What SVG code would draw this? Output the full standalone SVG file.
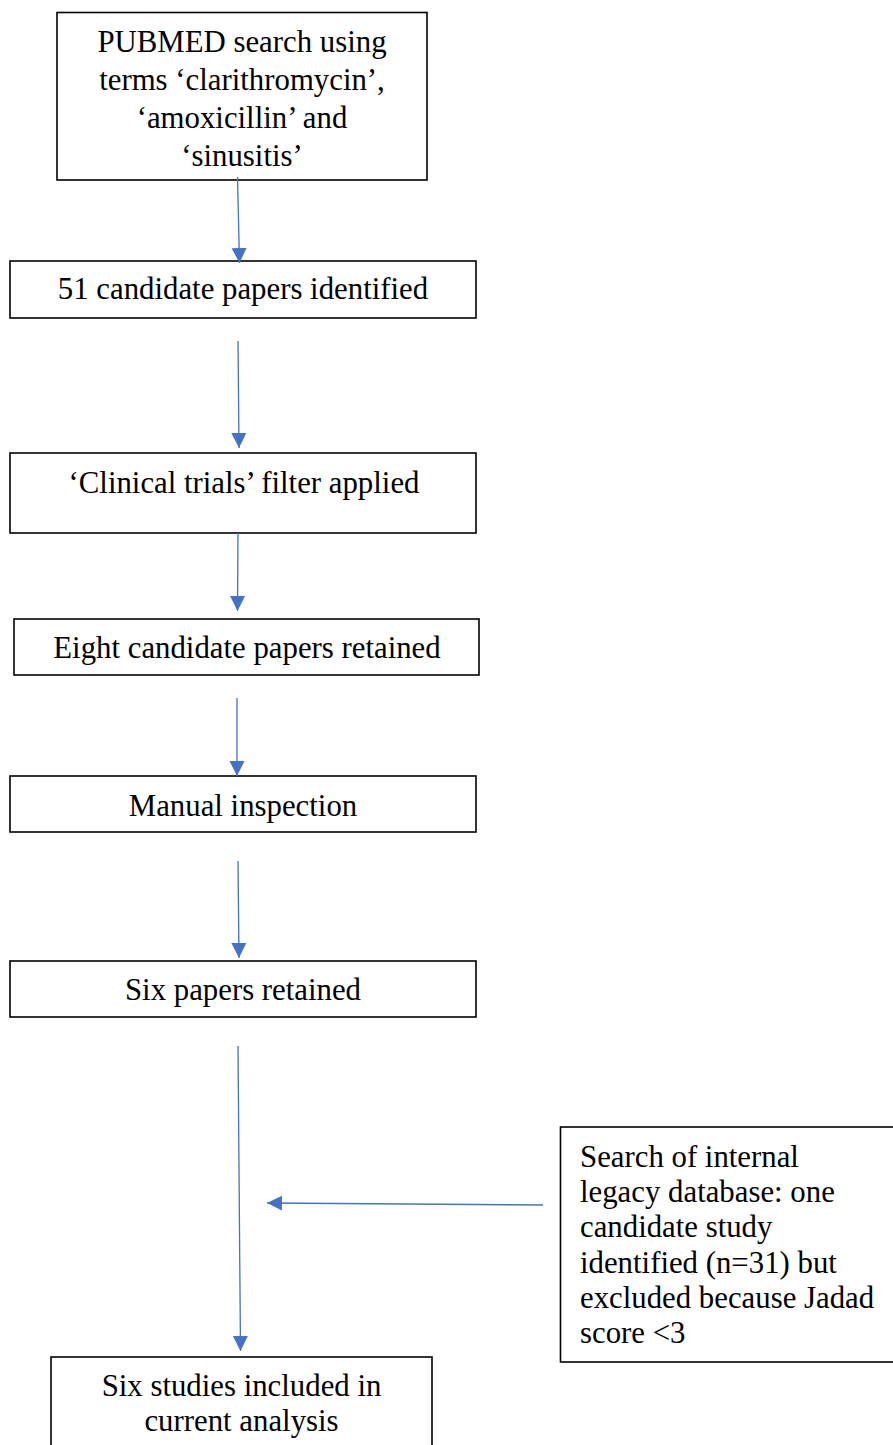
<svg xmlns="http://www.w3.org/2000/svg" width="893" height="1445" viewBox="0 0 893 1445">
<style>
.box{fill:#fff;stroke:#000;stroke-width:1.6}
.t{font-family:"Liberation Serif","Times New Roman",serif;font-size:30.8px;fill:#000}
.c{text-anchor:middle}
.conn{stroke:#4472C4;stroke-width:1.3;fill:none}
</style>
<defs>
<marker id="ah" markerUnits="userSpaceOnUse" markerWidth="16" markerHeight="16" viewBox="0 0 16 16" refX="15" refY="8" orient="auto">
<path d="M0,0.5 L15,8 L0,15.5 Z" fill="#4472C4"/>
</marker>
</defs>
<rect width="893" height="1445" fill="#fff"/>
<g id="n1">
<rect class="box" x="57" y="12.5" width="370" height="167.5"/>
<text class="t c" x="242" y="52">PUBMED search using</text>
<text class="t c" x="242" y="90">terms ‘clarithromycin’,</text>
<text class="t c" x="242" y="128">‘amoxicillin’ and</text>
<text class="t c" x="242" y="166">‘sinusitis’</text>
</g>
<g id="n2">
<rect class="box" x="10" y="261" width="466" height="57"/>
<text class="t c" x="243" y="299">51 candidate papers identified</text>
</g>
<g id="n3">
<rect class="box" x="10" y="453" width="466" height="80"/>
<text class="t c" x="244" y="493">‘Clinical trials’ filter applied</text>
</g>
<g id="n4">
<rect class="box" x="14" y="619" width="465" height="56"/>
<text class="t c" x="247" y="658">Eight candidate papers retained</text>
</g>
<g id="n5">
<rect class="box" x="10" y="776" width="466" height="56"/>
<text class="t c" x="243" y="816">Manual inspection</text>
</g>
<g id="n6">
<rect class="box" x="10" y="961" width="466" height="56"/>
<text class="t c" x="243" y="1000">Six papers retained</text>
</g>
<g id="n7">
<rect class="box" x="51" y="1357" width="381" height="100"/>
<text class="t c" x="241.5" y="1396">Six studies included in</text>
<text class="t c" x="241.5" y="1431">current analysis</text>
</g>
<g id="n8">
<rect class="box" x="560.5" y="1127" width="345" height="235"/>
<text class="t" x="580" y="1167">Search of internal</text>
<text class="t" x="580" y="1202">legacy database: one</text>
<text class="t" x="580" y="1237">candidate study</text>
<text class="t" x="580" y="1273">identified (n=31) but</text>
<text class="t" x="580" y="1308">excluded because Jadad</text>
<text class="t" x="580" y="1343">score &lt;3</text>
</g>
<g id="connectors">
<line class="conn" x1="237.5" y1="177" x2="239.5" y2="263" marker-end="url(#ah)"/>
<line class="conn" x1="238" y1="341" x2="239" y2="448" marker-end="url(#ah)"/>
<line class="conn" x1="238" y1="533" x2="237.5" y2="611" marker-end="url(#ah)"/>
<line class="conn" x1="237" y1="698" x2="237" y2="776" marker-end="url(#ah)"/>
<line class="conn" x1="238" y1="861" x2="239" y2="958" marker-end="url(#ah)"/>
<line class="conn" x1="238" y1="1046" x2="240.5" y2="1351" marker-end="url(#ah)"/>
<line class="conn" x1="543" y1="1205" x2="267" y2="1203" marker-end="url(#ah)"/>
</g>
</svg>
